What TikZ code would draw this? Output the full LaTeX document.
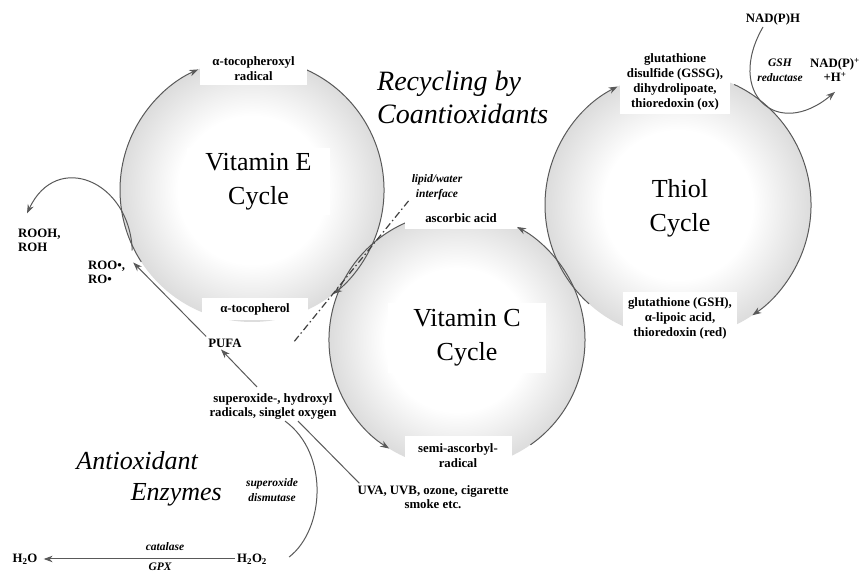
\documentclass[tikz,border=0pt]{standalone}
\usepackage{fontspec}
\setmainfont{Liberation Serif}
\usetikzlibrary{arrows.meta,positioning,calc}

\pgfdeclareradialshading{cyclesphere}{\pgfpoint{0bp}{0bp}}{%
  color(0bp)=(white); color(14bp)=(white); color(50bp)=(black!45)}

\tikzset{x=1pt, y=1pt,
        cycle disk/.style={ % grey sphere of each cycle
            circle, draw=none, shading=cyclesphere, inner sep=0pt, outer sep=0pt},
        cycle name/.style={ % big name on its white card
            fill=white, align=center, inner sep=0pt,
            font=\fontsize{26}{34}\selectfont},
        compound/.style={ % bold label on the rim of a disk
            fill=white, align=center, inner sep=0pt,
            font=\fontsize{12.8}{15}\selectfont\bfseries},
        chem/.style={ % bold label outside the disks
            align=center, inner sep=2pt,
            font=\fontsize{12.8}{14}\selectfont\bfseries},
        enzyme/.style={ % bold italic label
            align=center, inner sep=1pt,
            font=\fontsize{11.5}{15}\selectfont\bfseries\itshape},
        heading/.style={ % big italic headline
            align=left, inner sep=0pt,
            font=\fontsize{27}{32}\selectfont\itshape},
        flow/.style={ % every arrow
            draw=black!65, line width=1pt,
            -{Stealth[length=9pt,width=6.5pt]}},
        iface/.style={ % the lipid/water border
            draw=black!75, line width=1.2pt,
            dash pattern=on 7pt off 3pt on 1.5pt off 3pt}
        }

\begin{document}
\begin{tikzpicture}
    \useasboundingbox (0,0) rectangle (860,573);
    \clip (0,0) rectangle (860,573);

    \node[cycle disk, minimum size=264pt] (diskE) at (252,383) {};
    \node[cycle disk, minimum size=266pt] (diskT) at (678,368) {};
    \node[cycle disk, minimum size=256pt] (diskC) at (457,233) {};

    \draw[flow] (diskE.213) arc[start angle=213, end angle=114, radius=132pt];
    \draw[flow] (diskE.66) arc[start angle=66, end angle=-52, radius=132pt];
    \draw[flow] (diskC.112) arc[start angle=112, end angle=238, radius=128pt];
    \draw[flow] (diskC.305) arc[start angle=305, end angle=422, radius=128pt];
    \draw[flow] (diskT.228) arc[start angle=228, end angle=117, radius=133pt];
    \draw[flow] (diskT.65) arc[start angle=65, end angle=-56, radius=133pt];

    \node[cycle name, minimum width=143pt, minimum height=67pt] (nameE) at (258.5,391.5) {Vitamin E\\Cycle};
    \node[cycle name, minimum width=158pt, minimum height=70pt] (nameC) at (467,235) {Vitamin C\\Cycle};
    \node[cycle name, minimum width=80pt, minimum height=88pt] (nameT) at (680,365) {Thiol\\Cycle};

    \node[compound, minimum width=107pt, minimum height=33pt] (tocRad) at (253.5,504.5) {α-tocopheroxyl\\radical};
    \node[compound, minimum width=106pt, minimum height=22pt] (toc) at (255,264) {α-tocopherol};
    \node[compound, minimum width=112pt, minimum height=22pt] (asc) at (461,355) {ascorbic acid};
    \node[compound, minimum width=107pt, minimum height=39pt] (semi) at (458,117) {semi-ascorbyl-\\radical};
    \node[compound, minimum width=110pt, minimum height=65pt] (gssg) at (675,491) {glutathione\\disulfide (GSSG),\\dihydrolipoate,\\thioredoxin (ox)};
    \node[compound, minimum width=114pt, minimum height=53pt] (gsh) at (680,254.5) {glutathione (GSH),\\α-lipoic acid,\\thioredoxin (red)};

    \node[heading, anchor=west, font=\fontsize{28}{33}\selectfont\itshape] (recyc) at (377,476) {Recycling by\\Coantioxidants};
    \node[heading, anchor=east, align=right, font=\fontsize{26}{31}\selectfont\itshape] (enz) at (222,94) {Antioxidant\hspace*{24pt}\\Enzymes};

    \node[chem, anchor=west, align=left] (rooh) at (16,333) {ROOH,\\ROH};
    \node[chem, anchor=west, align=left] (roo) at (86,301) {ROO•,\\RO•};
    \node[chem] (pufa) at (225,230) {PUFA};
    \node[chem] (rad) at (273,167) {superoxide-, hydroxyl\\radicals, singlet oxygen};
    \node[chem] (uva) at (433,76) {UVA, UVB, ozone, cigarette\\smoke etc.};
    \node[chem] (h2o) at (25,14) {H\textsubscript{2}O};
    \node[chem] (hoo) at (252,14) {H\textsubscript{2}O\textsubscript{2}};
    \node[chem] (nadph) at (773,554) {NAD(P)H};
    \node[chem] (nadp) at (835,503) {NAD(P)\textsuperscript{+}\\+H\textsuperscript{+}};
    \node[enzyme] (sod) at (272,83) {superoxide\\dismutase};
    \node[enzyme] (cat) at (165,26) {catalase};
    \node[enzyme] (gpx) at (160,6.5) {GPX};
    \node[enzyme] (gr) at (780,503) {GSH\\reductase};
    \node[enzyme] (lipid) at (437,386) {lipid/water\\interface};
    \coordinate (ifaceEnd) at (293,230);

    \draw[iface] ([shift={(-2pt,0pt)}]lipid.south west) -- (ifaceEnd);
    \draw[flow] (pufa.north west) -- ([shift={(6pt,-4pt)}]roo.north east);
    \draw[flow] ([shift={(5pt,8pt)}]roo.north east) to[out=92,in=65,looseness=1.6] ([shift={(11pt,13pt)}]rooh.north west);
    \draw[flow] ([shift={(-16pt,4pt)}]rad.north) -- ([xshift=-4pt]pufa.south);
    \draw[draw=black!65, line width=1pt] ([xshift=25pt]rad.south) -- ([xshift=4pt]uva.north west);
    \draw[draw=black!65, line width=1pt] ([xshift=12pt]rad.south) .. controls +(45,-33) and +(35,27) .. ([shift={(20pt,2pt)}]hoo.east);
    \draw[flow, shorten >=4pt] (hoo.west) -- (h2o.east);
    \draw[flow] ([xshift=-10pt]nadph.south) to[out=240,in=220,looseness=2] ([yshift=-8pt]nadp.south);
\end{tikzpicture}
\end{document}
